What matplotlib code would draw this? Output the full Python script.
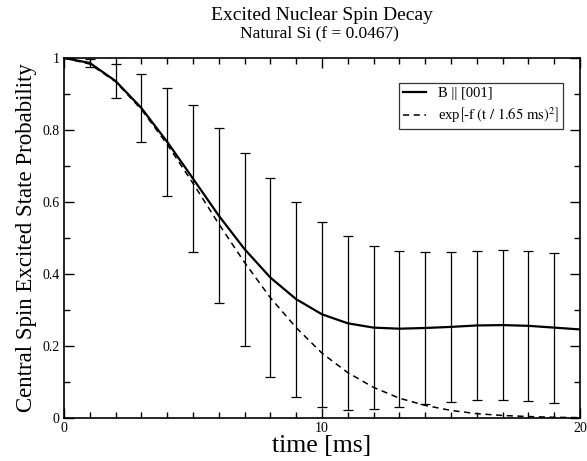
import matplotlib
matplotlib.use("Agg")
import matplotlib.pyplot as plt
from matplotlib.ticker import MultipleLocator

# time points [ms]
time_ms = [0, 1, 2, 3, 4, 5, 6, 7, 8, 9, 10, 11, 12, 13, 14, 15, 16, 17, 18, 19, 20]

# B || [001] simulated probability
prob_b001 = [1.000, 0.986, 0.936, 0.861, 0.767, 0.665, 0.562, 0.469, 0.390, 0.330, 0.288,
             0.263, 0.251, 0.248, 0.250, 0.253, 0.257, 0.258, 0.256, 0.251, 0.246]

# error bar half-widths (none at t=0 and t=20)
err_time = [1, 2, 3, 4, 5, 6, 7, 8, 9, 10, 11, 12, 13, 14, 15, 16, 17, 18, 19]
err_half = [0.011, 0.046, 0.095, 0.150, 0.203, 0.243, 0.268, 0.276, 0.271, 0.257,
            0.242, 0.226, 0.217, 0.210, 0.209, 0.208, 0.208, 0.209, 0.208]

# Gaussian reference exp[-f (t / 1.65 ms)^2]
prob_gauss = [1.000, 0.983, 0.934, 0.857, 0.760, 0.652, 0.539, 0.432, 0.334, 0.251, 0.180,
              0.126, 0.085, 0.055, 0.035, 0.021, 0.012, 0.007, 0.004, 0.002, 0.001]

plt.rcParams["font.family"] = ["Liberation Serif", "DejaVu Serif"]
plt.rcParams["mathtext.fontset"] = "stix"

fig = plt.figure(figsize=(5.87, 4.61), dpi=100)
ax = fig.add_axes([0.109, 0.0933, 0.879, 0.781])

err_center = [prob_b001[time_ms.index(t)] for t in err_time]
ax.errorbar(err_time, err_center, yerr=err_half, fmt="none", ecolor="black",
            elinewidth=0.9, capsize=3.6, capthick=0.9)
ax.plot(time_ms, prob_b001, color="black", linewidth=1.6, label="B || [001]")
ax.plot(time_ms, prob_gauss, color="black", linewidth=1.1, linestyle=(0, (4, 3)),
        label="exp$\\left[\\mathrm{\u2010f\\ (t\\ /\\ 1.65\\ ms)^2}\\right]$")

ax.set_xlim(0, 20)
ax.set_ylim(0, 1)
ax.xaxis.set_major_locator(MultipleLocator(10))
ax.xaxis.set_minor_locator(MultipleLocator(1))
ax.yaxis.set_major_locator(MultipleLocator(0.2))
ax.yaxis.set_minor_locator(MultipleLocator(0.1))
ax.xaxis.set_major_formatter(lambda v, pos: f"{v:g}")
ax.yaxis.set_major_formatter(lambda v, pos: f"{v:g}")

ax.tick_params(which="both", direction="in", top=True, right=True, labelsize=10, width=1)
ax.tick_params(which="major", length=7, pad=3)
ax.tick_params(which="minor", length=4)
for spine in ax.spines.values():
    spine.set_linewidth(1.2)

ax.set_xlabel("time [ms]", fontsize=18.5, labelpad=0)
ax.set_ylabel("Central Spin Excited State Probability", fontsize=16.5, labelpad=4)

fig.text(0.548, 0.957, "Excited Nuclear Spin Decay", ha="center", va="baseline", fontsize=14)
fig.text(0.545, 0.9197, "Natural Si (f = 0.0467)", ha="center", va="baseline", fontsize=12.5)

leg = ax.legend(loc="upper right", bbox_to_anchor=(0.967, 0.931), fontsize=10.5,
                frameon=True, fancybox=False, handlelength=1.6, handletextpad=0.8,
                borderpad=0.3, labelspacing=0.35, borderaxespad=0)
leg.get_frame().set_edgecolor("black")
leg.get_frame().set_linewidth(0.9)

fig.savefig("out.png", dpi=100)
